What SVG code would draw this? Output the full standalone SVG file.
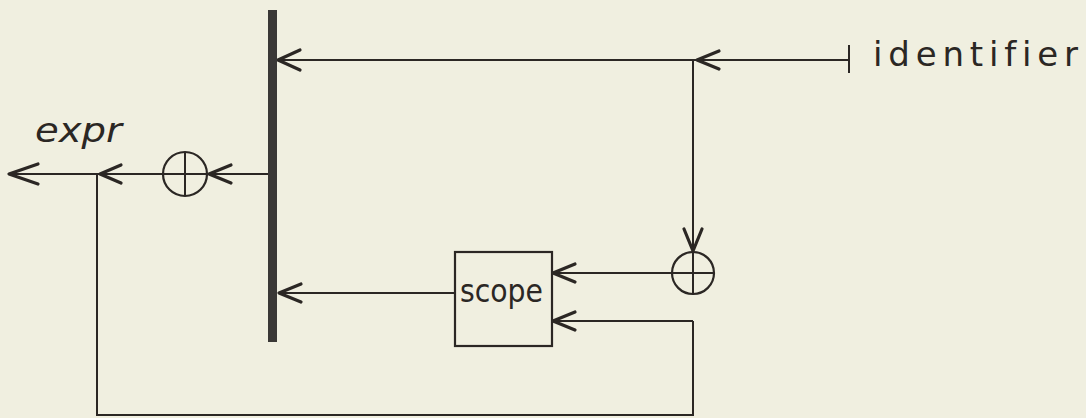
<svg xmlns="http://www.w3.org/2000/svg" width="1086" height="418" viewBox="0 0 1086 418">
<style>
.ln{fill:none;stroke:#2b2724;stroke-width:2}
.ah{fill:none;stroke:#2b2724;stroke-width:3.2;stroke-linecap:round;stroke-linejoin:round}
.nd{fill:none;stroke:#2b2724;stroke-width:2.2}
.tx{fill:#2b2724;font-family:"DejaVu Sans","Liberation Sans",sans-serif;font-variant-ligatures:none}
</style>
<rect width="1086" height="418" fill="#f0efe0"/>
<g id="connectors">
<path class="ln" d="M278 60 H849"/>
<path class="ln" d="M849 45 V73"/>
<path class="ln" d="M693 60 V251"/>
<path class="ln" d="M672 273 H552"/>
<path class="ln" d="M455 293 H278"/>
<path class="ln" d="M693 321 H552"/>
<path class="ln" d="M693 321 V415 H97 V174"/>
<path class="ln" d="M268 174 H207"/>
<path class="ln" d="M163 174 H8"/>
<path class="ah" d="M300 50 L278 60 L300 70"/>
<path class="ah" d="M719 51 L697 60 L719 69"/>
<path class="ah" d="M684 229 L693 251 L702 229"/>
<path class="ah" d="M575 264 L553 273 L575 282"/>
<path class="ah" d="M575 312 L553 321 L575 330"/>
<path class="ah" d="M301 284 L279 293 L301 302"/>
<path class="ah" d="M231 165 L209 174 L231 183"/>
<path class="ah" d="M121 165 L100 174 L121 183"/>
<path class="ah" d="M38 164 L9 174 L38 184"/>
</g>
<g id="bar"><rect x="268" y="10" width="9" height="332" fill="#3a3836"/></g>
<g id="sum-top"><circle class="nd" cx="693" cy="273" r="21"/><path class="ln" d="M672 273 H714 M693 252 V294"/></g>
<g id="sum-left"><circle class="nd" cx="185" cy="174" r="22"/><path class="ln" d="M163 174 H207 M185 152 V196"/></g>
<g id="scope"><rect class="nd" x="455" y="252" width="97" height="94"/><text class="tx" x="460" y="302" font-size="32" textLength="83" lengthAdjust="spacingAndGlyphs">scope</text></g>
<g id="expr"><text class="tx" x="35" y="142" font-size="34" font-style="italic" textLength="87" lengthAdjust="spacingAndGlyphs">expr</text></g>
<g id="identifier"><text class="tx" x="873" y="66" font-size="34" textLength="205" lengthAdjust="spacing">identifier</text></g>
</svg>
